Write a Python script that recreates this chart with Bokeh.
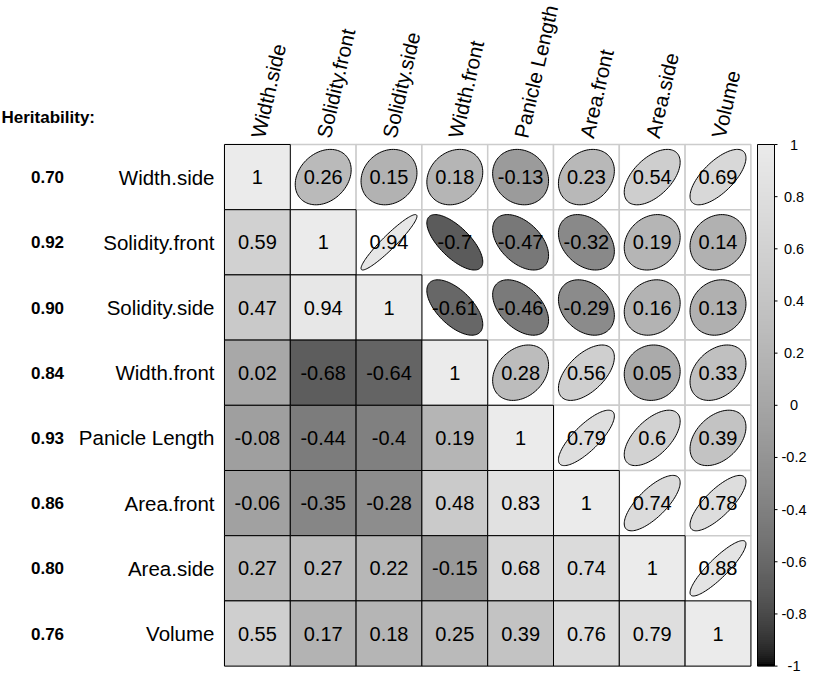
import numpy as np
from bokeh.plotting import figure
from bokeh.models import ColumnDataSource, Range1d, LinearColorMapper
from bokeh.transform import transform
from bokeh.core.properties import value
from bokeh.embed import file_html
from bokeh.resources import INLINE

# ---------------- data ----------------
traits = ["Width.side", "Solidity.front", "Solidity.side", "Width.front",
          "Panicle Length", "Area.front", "Area.side", "Volume"]
heritability = ["0.70", "0.92", "0.90", "0.84", "0.93", "0.86", "0.80", "0.76"]

# upper triangle (ellipses), row i, columns i+1 .. 7
upper = [
    [0.26, 0.15, 0.18, -0.13, 0.23, 0.54, 0.69],
    [0.94, -0.7, -0.47, -0.32, 0.19, 0.14],
    [-0.61, -0.46, -0.29, 0.16, 0.13],
    [0.28, 0.56, 0.05, 0.33],
    [0.79, 0.6, 0.39],
    [0.74, 0.78],
    [0.88],
    [],
]
# lower triangle (shaded squares), row i, columns 0 .. i-1
lower = [
    [],
    [0.59],
    [0.47, 0.94],
    [0.02, -0.68, -0.64],
    [-0.08, -0.44, -0.4, 0.19],
    [-0.06, -0.35, -0.28, 0.48, 0.83],
    [0.27, 0.27, 0.22, -0.15, 0.68, 0.74],
    [0.55, 0.17, 0.18, 0.25, 0.39, 0.76, 0.79],
]
cb_ticks = [-1, -0.8, -0.6, -0.4, -0.2, 0, 0.2, 0.4, 0.6, 0.8, 1]
cb_labels = ["-1", "-0.8", "-0.6", "-0.4", "-0.2", "0", "0.2", "0.4", "0.6", "0.8", "1"]

# ---------------- layout ----------------
N = len(traits)
W, H = 810, 674
X0, CW = 224.0, 65.8     # grid left (px) and cell width (px)
Y0, CH = 144.0, 65.2     # grid top (px) and cell height (px)
x_start, x_end = -X0 / CW, (W - X0) / CW
y_start, y_end = N - (H - Y0) / CH, N + Y0 / CH

FONT = value("Liberation Sans")

t = np.linspace(0, 1, 256)
g = np.round(0.92 * t ** (1 / 2.0) * 255).astype(int)
palette = ["#%02x%02x%02x" % (v, v, v) for v in g]
mapper = LinearColorMapper(palette=palette, low=-1, high=1)


def fmt(v):
    s = "%.2f" % v
    s = s.rstrip("0").rstrip(".")
    return s


def px(x):
    return (x - X0) / CW


def py(y):
    return N - (y - Y0) / CH


# build cells
all_x, all_y = [], []
sq_x, sq_y, sq_r = [], [], []
el_xs, el_ys, el_r = [], [], []
num_x, num_y, num_t = [], [], []
k = np.linspace(0, 2 * np.pi, 100)
for i in range(N):
    for j in range(N):
        cx, cy = j + 0.5, N - i - 0.5
        all_x.append(cx)
        all_y.append(cy)
        if j < i:
            r = lower[i][j]
        elif j == i:
            r = 1.0
        else:
            r = upper[i][j - i - 1]
        if j <= i:
            sq_x.append(cx)
            sq_y.append(cy)
            sq_r.append(r)
        else:
            a = np.arccos(r)
            el_xs.append(list(cx + 0.85 * np.cos(k + a / 2) / 2))
            el_ys.append(list(cy + 0.85 * np.cos(k - a / 2) / 2))
            el_r.append(r)
        num_x.append(cx)
        num_y.append(cy)
        num_t.append(fmt(r))

p = figure(width=W, height=H, x_range=Range1d(x_start, x_end),
           y_range=Range1d(y_start, y_end), output_backend="svg",
           toolbar_location=None, x_axis_location=None, y_axis_location=None,
           min_border=0, min_border_left=0, min_border_right=0,
           min_border_top=0, min_border_bottom=0)
p.xgrid.visible = False
p.ygrid.visible = False
p.outline_line_color = None
p.background_fill_color = "white"
p.border_fill_color = "white"
p.extra_y_ranges = {"cb": Range1d(y_start / 4 - 1, y_end / 4 - 1)}

# background grid (light gray)
p.rect(x=all_x, y=all_y, width=1, height=1, fill_color="white",
       line_color="#cccccc", line_width=1.5)

# lower + diagonal squares
sq_src = ColumnDataSource(dict(x=sq_x, y=sq_y, r=sq_r))
p.rect(x="x", y="y", width=1, height=1, source=sq_src,
       fill_color=transform("r", mapper), line_color="black", line_width=1)

# ellipses
el_src = ColumnDataSource(dict(xs=el_xs, ys=el_ys, r=el_r))
p.patches(xs="xs", ys="ys", source=el_src, fill_color=transform("r", mapper),
          line_color="black", line_width=1)

# numbers
p.text(x=num_x, y=num_y, text=num_t, text_align="center", text_baseline="middle",
       text_font=FONT, text_font_size="20px", text_color="black")

# row labels
row_y = [N - i - 0.5 for i in range(N)]
p.text(x=[px(214)] * N, y=row_y, text=traits, text_align="right",
       text_baseline="middle", text_font=FONT, text_font_size="20.5px",
       text_color="black")

# column labels
p.text(x=[j + 0.5 for j in range(N)], y=[py(Y0 - 7)] * N, text=traits,
       angle=np.deg2rad(77), text_align="left", text_baseline="middle",
       text_font=FONT, text_font_size="20.5px", text_color="black")

# heritability
p.text(x=[px(47)] * N, y=row_y, text=heritability, text_align="center",
       text_baseline="middle", text_font=FONT, text_font_size="17px",
       text_font_style="bold", text_color="black")
p.text(x=[px(1)], y=[py(117)], text=["Heritability:"],
       text_align="left", text_baseline="middle", text_font=FONT,
       text_font_size="17px", text_font_style="bold", text_color="black")

# colour bar
cb_left, cb_right, tick_end, lab_x = px(757), px(774), px(777), px(793.5)
grad = np.linspace(-1, 1, 256).reshape(-1, 1)
p.image(image=[grad], x=cb_left, y=-1, dw=cb_right - cb_left, dh=2,
        color_mapper=mapper, y_range_name="cb")
p.quad(left=[cb_left], right=[cb_right], bottom=[-1], top=[1], fill_color=None,
       line_color="black", line_width=1, y_range_name="cb")
p.segment(x0=[cb_right] * len(cb_ticks), x1=[tick_end] * len(cb_ticks),
          y0=cb_ticks, y1=cb_ticks, line_color="black", line_width=1,
          y_range_name="cb")
p.text(x=[lab_x] * len(cb_ticks), y=cb_ticks, text=cb_labels,
       text_align="center", text_baseline="middle", text_font=FONT,
       text_font_size="14.5px", text_color="black", y_range_name="cb")

open("out.html", "w").write(file_html(p, INLINE))
